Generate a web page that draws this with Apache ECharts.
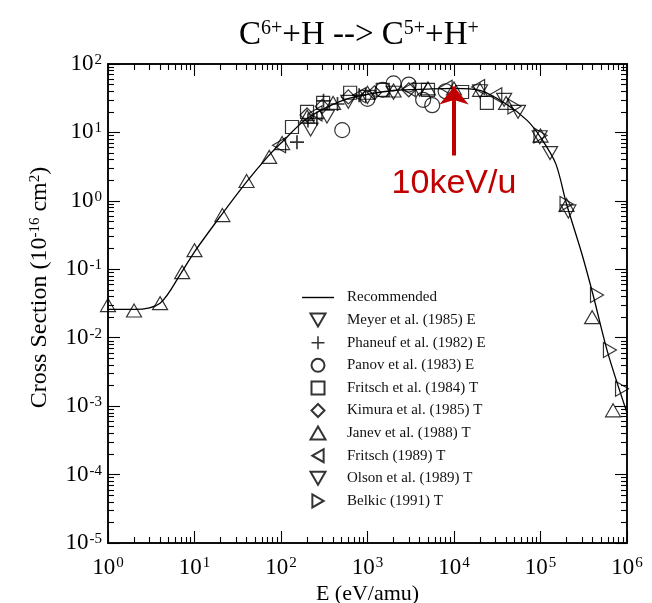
<!DOCTYPE html>
<html>
<head>
<meta charset="utf-8">
<script src="https://cdn.jsdelivr.net/npm/echarts@6/dist/echarts.min.js"></script>
<style>
  html, body { margin: 0; padding: 0; background: #fff; }
  #chart { width: 652px; height: 603px; }
</style>
</head>
<body>
<div id="chart"></div>
<script>
// recommended curve (eV/amu, 1e-16 cm^2)
const curveE = [1, 2, 4, 7, 10, 20, 40, 70, 100, 200, 500, 1000, 2000, 5000, 10000, 20000, 40000, 70000, 100000, 150000, 200000, 300000, 400000, 600000, 1000000]
const curveS = [0.026, 0.026, 0.032, 0.088, 0.18, 0.6, 1.9, 4.4, 7, 16, 29, 36, 41, 43, 44, 41, 26, 15, 8.5, 3.5, 0.9, 0.17, 0.045, 0.006, 0.0008]

// measured / theory points
const meyer = [[220, 11], [340, 17], [600, 28], [1000, 33], [2000, 38], [4000, 42]]
const phaneuf = [[153, 7.2], [205, 15], [260, 16], [310, 29], [450, 26], [800, 35]]
const panov = [[510, 10.8], [1000, 31], [1500, 42], [2000, 52], [3000, 50], [4400, 30], [5600, 25], [8000, 40]]
const fritsch84 = [[134, 12], [200, 20], [307, 27], [630, 38], [1500, 42], [5000, 42], [12400, 39], [24000, 27]]
const kimura = [[200, 18], [300, 24], [600, 33], [1200, 38], [3000, 42]]
const janev = [[1, 0.030], [2, 0.025], [4, 0.032], [7.2, 0.091], [10, 0.19], [21, 0.62], [40, 1.95], [73, 4.4], [103, 7], [200, 17], [400, 27], [1000, 38], [2000, 41], [5000, 44], [10000, 44], [20000, 42], [40000, 27], [100000, 9], [200000, 0.87], [395000, 0.020], [690000, 0.00087]]
const fritsch89 = [[95, 6.5], [250, 19], [800, 35], [3000, 43], [8000, 45], [19000, 46], [30000, 35]]
const olson = [[20000, 40], [38000, 30], [55000, 20], [98000, 8.5], [129000, 5], [210000, 0.7]]
const belkic = [[50000, 24], [100000, 9], [200000, 0.9], [450000, 0.042], [635000, 0.0066], [876000, 0.0018]]

// axes
const xMajor = [1, 10, 100, 1000, 10000, 100000, 1000000]
const yMajor = [1e-5, 1e-4, 1e-3, 1e-2, 1e-1, 1, 10, 100]
const minorSteps = [2, 3, 4, 5, 6, 7, 8, 9]
const xMinor = []
const yMinor = []
xMajor.slice(0, -1).forEach(d => minorSteps.forEach(k => xMinor.push(k * d)))
yMajor.slice(0, -1).forEach(d => minorSteps.forEach(k => yMinor.push(k * d)))

const serif = 'Liberation Serif'
const red = '#c00000'

const sym = {
  up: 'path://M6,0L12,10.4L0,10.4Z',
  down: 'path://M0,0L12,0L6,10.4Z',
  left: 'path://M0,6L10.4,0L10.4,12Z',
  right: 'path://M0,0L10.4,6L0,12Z',
  rect: 'path://M0,0h10v10h-10z',
  diamond: 'path://M6,0L12,6L6,12L0,6Z',
  plus: 'path://M4.4,0h1.2v4.4h4.4v1.2h-4.4v4.4h-1.2v-4.4h-4.4v-1.2h4.4z',
  line: 'path://M0,0h32v1.4h-32z'
}

function powLabel(v) {
  const e = Math.round(Math.log10(v))
  return '10{sup|' + e + '}'
}

const tickRich = {
  sup: { fontSize: 15, fontFamily: serif, color: '#000', verticalAlign: 'top', padding: [0, 0, 8, 1] }
}

function scatter(name, data, symbol, size) {
  return {
    name: name,
    type: 'scatter',
    data: data,
    symbol: symbol,
    symbolSize: size,
    symbolKeepAspect: true,
    itemStyle: symbol === sym.plus
      ? { color: '#000' }
      : { color: 'rgba(0,0,0,0)', borderColor: '#000', borderWidth: 1.2 },
    z: 3
  }
}

function logAxis(min, max, position, values, len, extra) {
  return Object.assign({
    type: 'log',
    logBase: 10,
    min: min,
    max: max,
    position: position,
    axisLine: { show: true, onZero: false, lineStyle: { color: '#000', width: 1.5 } },
    axisTick: { show: true, inside: true, length: len, customValues: values, lineStyle: { color: '#000', width: 1.1 } },
    axisLabel: { show: false },
    splitLine: { show: false },
    minorTick: { show: false }
  }, extra || {})
}

const chart = echarts.init(document.getElementById('chart'), null, { renderer: 'canvas' })

chart.setOption({
  animation: false,
  backgroundColor: '#fff',
  title: {
    text: 'C{sup|6+}+H --> C{sup|5+}+H{sup|+}',
    left: 234,
    top: 14,
    textStyle: {
      fontFamily: serif, fontSize: 33, fontWeight: 'normal', color: '#000',
      rich: { sup: { fontFamily: serif, fontSize: 20, color: '#000', verticalAlign: 'top', padding: [0, 0, 12, 0] } }
    }
  },
  grid: { left: 108, right: 25, top: 64, bottom: 60, containLabel: false, outerBoundsMode: 'none' },
  legend: {
    orient: 'vertical',
    left: 297,
    top: 285,
    itemWidth: 32,
    itemHeight: 13,
    itemGap: 7.6,
    selectedMode: false,
    symbolKeepAspect: true,
    textStyle: { fontFamily: serif, fontSize: 15, color: '#111', padding: [0, 0, 0, 8] },
    data: [
      { name: 'Recommended', icon: sym.line },
      { name: 'Meyer et al. (1985) E', icon: sym.down },
      { name: 'Phaneuf et al. (1982) E', icon: sym.plus },
      { name: 'Panov et al. (1983) E', icon: 'circle' },
      { name: 'Fritsch et al. (1984) T', icon: sym.rect },
      { name: 'Kimura et al. (1985) T', icon: sym.diamond },
      { name: 'Janev et al. (1988) T', icon: sym.up },
      { name: 'Fritsch (1989) T', icon: sym.left },
      { name: 'Olson et al. (1989) T', icon: sym.down },
      { name: 'Belkic (1991) T', icon: sym.right }
    ]
  },
  xAxis: [
    logAxis(1, 1e6, 'bottom', xMajor, 12, {
      name: 'E (eV/amu)',
      nameLocation: 'middle',
      nameGap: 40,
      nameMoveOverlap: false,
      nameTextStyle: { fontFamily: serif, fontSize: 22, color: '#000' },
      axisLabel: { show: true, customValues: xMajor, margin: 13, formatter: powLabel, fontFamily: serif, fontSize: 23, color: '#000', rich: tickRich }
    }),
    logAxis(1, 1e6, 'top', xMajor, 12),
    logAxis(1, 1e6, 'bottom', xMinor, 6),
    logAxis(1, 1e6, 'top', xMinor, 6)
  ],
  yAxis: [
    logAxis(1e-5, 1e2, 'left', yMajor, 12, {
      name: 'Cross Section (10{s|-16} cm{s|2})',
      nameLocation: 'middle',
      nameRotate: 90,
      nameGap: 56,
      nameTextStyle: {
        fontFamily: serif, fontSize: 24, color: '#000', padding: [0, 0, 0, 32],
        rich: { s: { fontFamily: serif, fontSize: 15, color: '#000', verticalAlign: 'top', padding: [0, 0, 9, 0] } }
      },
      axisLabel: { show: true, customValues: yMajor, margin: 6, formatter: powLabel, fontFamily: serif, fontSize: 23, color: '#000', rich: tickRich }
    }),
    logAxis(1e-5, 1e2, 'right', yMajor, 12),
    logAxis(1e-5, 1e2, 'left', yMinor, 6),
    logAxis(1e-5, 1e2, 'right', yMinor, 6)
  ],
  series: [
    {
      name: 'Recommended',
      type: 'line',
      data: curveE.map((e, i) => [e, curveS[i]]),
      symbol: 'none',
      smooth: 0.3,
      lineStyle: { color: '#000', width: 1.3 },
      itemStyle: { color: '#000' },
      z: 2,
      markLine: {
        silent: true,
        symbol: ['none', 'arrow'],
        symbolSize: [22, 18],
        lineStyle: { color: red, width: 4, type: 'solid' },
        label: { show: false },
        data: [[{ coord: [1e4, 4.6] }, { coord: [1e4, 47] }]]
      },
      markPoint: {
        silent: true,
        symbol: 'circle',
        symbolSize: 0,
        label: { show: true, position: 'inside', formatter: '10keV/u', color: red, fontSize: 34, fontFamily: 'Liberation Sans' },
        data: [{ coord: [1e4, 1.8] }]
      }
    },
    scatter('Meyer et al. (1985) E', meyer, sym.down, 15),
    scatter('Phaneuf et al. (1982) E', phaneuf, sym.plus, 14),
    scatter('Panov et al. (1983) E', panov, 'circle', 15),
    scatter('Fritsch et al. (1984) T', fritsch84, sym.rect, 13),
    scatter('Kimura et al. (1985) T', kimura, sym.diamond, 14),
    scatter('Janev et al. (1988) T', janev, sym.up, 15),
    scatter('Fritsch (1989) T', fritsch89, sym.left, 15),
    scatter('Olson et al. (1989) T', olson, sym.down, 15),
    scatter('Belkic (1991) T', belkic, sym.right, 15)
  ]
})
</script>
</body>
</html>
